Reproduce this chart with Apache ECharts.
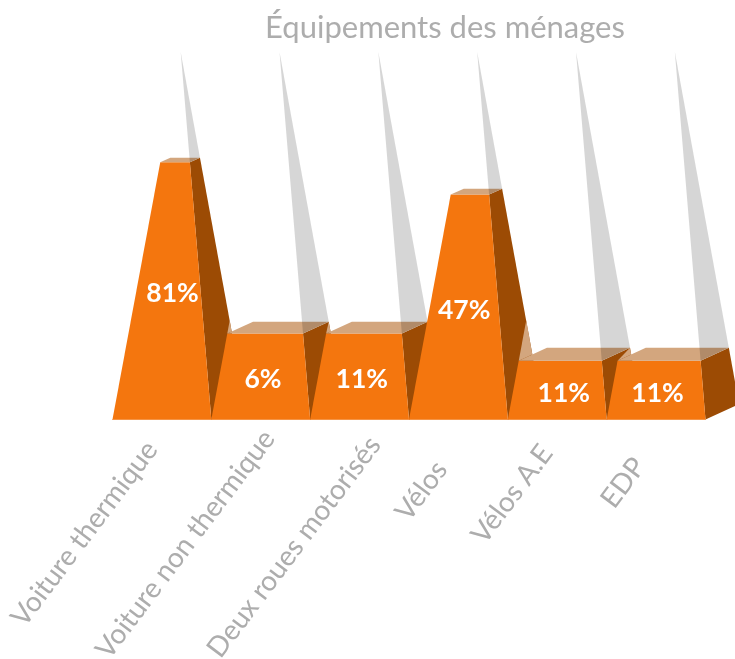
<!DOCTYPE html>
<html>
<head>
<meta charset="utf-8">
<style>
  html, body { margin: 0; padding: 0; background: #fff; }
  #chart { width: 735px; height: 659px; }
</style>
<script src="https://cdn.jsdelivr.net/npm/echarts@6/dist/echarts.min.js"></script>
</head>
<body>
<div id="chart"></div>
<script>
const categories = ['Voiture thermique', 'Voiture non thermique', 'Deux roues motorisés', 'Vélos', 'Vélos A.E', 'EDP']
// drawn height of each pyramid (0-100)
const barHeights = [70, 23.4, 23.4, 61.2, 16, 16]
// the printed labels do not follow the drawn heights
const barLabels = ['81%', '6%', '11%', '47%', '11%', '11%']

// layout tweaks, the rotated labels sit unevenly under the bars
const labelPadRight = [23, 3, 4, 43, 26, 40]
const labelLineHeight = [9, 25, 44, 22, 13, 19]
const barLabelShift = [4, 0, 0, 0, 5, 0]

const font = 'Lato'
const foldAt = 27 // height where a tall bar's side folds behind its neighbour

function lerp(a, b, t) {
  return [a[0] + (b[0] - a[0]) * t, a[1] + (b[1] - a[1]) * t]
}

// where segment ab crosses segment cd
function cross(a, b, c, d) {
  const den = (b[0] - a[0]) * (d[1] - c[1]) - (b[1] - a[1]) * (d[0] - c[0])
  const t = ((c[0] - a[0]) * (d[1] - c[1]) - (c[1] - a[1]) * (d[0] - c[0])) / den
  return lerp(a, b, t)
}

function pyramid(api, index, height) {
  const base = api.coord([index, 0])
  const top = api.coord([index, 100])
  const w = api.size([1, 0])[0]
  const t = height / 100
  const bl = [base[0] - w / 2, base[1]]
  const br = [base[0] + w / 2, base[1]]
  const bbr = [br[0] + w * 0.34, br[1] - w * 0.155]
  const bbl = [bl[0] + w * 0.34, bl[1] - w * 0.155]
  const apex = [bl[0] + w * 0.69, top[1]]
  return {
    t, bl, br, bbr, apex,
    tl: lerp(bl, apex, t),
    tr: lerp(br, apex, t),
    backL: lerp(bbl, apex, t),
    backR: lerp(bbr, apex, t)
  }
}

function poly(points, fill) {
  return { type: 'polygon', shape: { points }, style: { fill } }
}

function renderBar(params, api) {
  const i = api.value(0)
  const p = pyramid(api, i, api.value(1))
  const children = [
    poly([p.tr, p.backR, p.bbr, p.br], '#9c4b04'),
    poly([p.bl, p.br, p.tr, p.tl], '#f4760e'),
    poly([p.tl, p.backL, p.backR, p.tr], '#d3a67e')
  ]
  // tan sliver left of the top face, up to the fold of the previous bar
  if (i > 0 && barHeights[i] <= barHeights[i - 1]) {
    const prev = pyramid(api, i - 1, barHeights[i - 1])
    const fold = barHeights[i - 1] > foldAt ? lerp(p.bl, p.apex, foldAt / 100) : prev.backR
    const notch = cross(p.tl, p.backL, prev.backR, prev.bbr)
    children.push(poly([p.tl, fold, notch], '#d3a67e'))
  }
  children.push(poly([p.apex, p.tr, p.backR], 'rgba(0,0,0,0.16)'))
  const mid = lerp(lerp(p.bl, p.tl, 0.5), lerp(p.br, p.tr, 0.5), 0.5)
  children.push({
    type: 'text',
    style: {
      x: mid[0] + barLabelShift[i],
      y: mid[1] + 3,
      text: barLabels[i],
      fill: '#fff',
      font: 'bold 26.5px ' + font,
      align: 'center',
      verticalAlign: 'middle'
    }
  })
  return { type: 'group', children }
}

const mycharts = echarts.init(document.getElementById('chart'), null, { renderer: 'canvas' })
mycharts.setOption({
  animation: false,
  title: {
    text: 'Équipements des ménages',
    left: 440,
    top: 7,
    textAlign: 'center',
    textStyle: { color: '#adadad', fontFamily: font, fontSize: 31, fontWeight: 'normal' }
  },
  grid: { left: 112.5, top: 52, width: 593, height: 367.5, outerBoundsMode: 'none' },
  xAxis: {
    type: 'category',
    data: categories.map((c, i) => ({
      value: c,
      textStyle: {
        padding: [0, labelPadRight[i], 0, 0],
        verticalAlign: 'top',
        lineHeight: labelLineHeight[i]
      }
    })),
    axisLine: { lineStyle: { color: '#f5b27d', width: 1 } },
    axisTick: { show: false },
    axisLabel: {
      interval: 0,
      rotate: 53,
      margin: 4,
      color: '#adadad',
      fontFamily: font,
      fontSize: 28
    }
  },
  yAxis: { type: 'value', min: 0, max: 100, show: false, splitLine: { show: false } },
  series: [
    {
      type: 'custom',
      renderItem: renderBar,
      encode: { x: 0, y: 1 },
      data: barHeights.map((h, i) => [i, h])
    }
  ]
})
</script>
</body>
</html>
